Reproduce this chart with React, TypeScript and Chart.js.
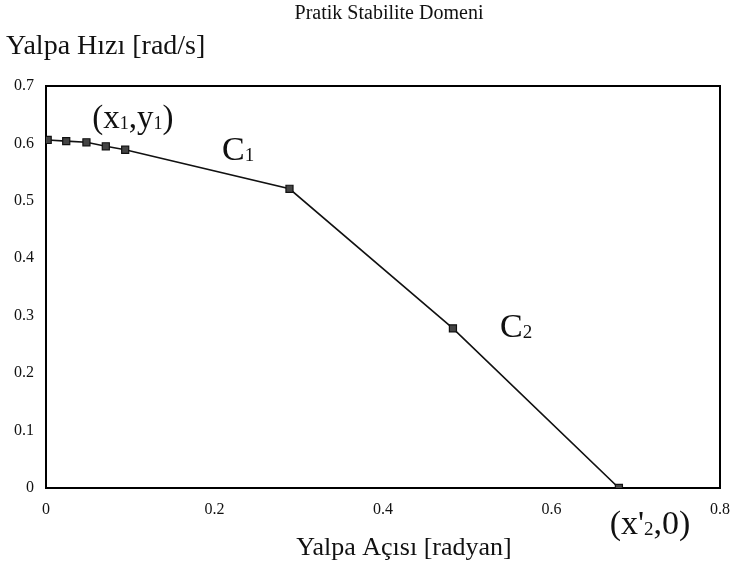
import React, { useEffect, useRef } from "react";
import { Chart, registerables } from "chart.js";

Chart.register(...registerables);

const xValues = [0.002, 0.024, 0.048, 0.071, 0.094, 0.289, 0.483, 0.68];
const yValues = [0.606, 0.604, 0.602, 0.595, 0.589, 0.521, 0.278, 0];
const xTicks = [0, 0.2, 0.4, 0.6, 0.8];
const yTicks = [0, 0.1, 0.2, 0.3, 0.4, 0.5, 0.6, 0.7];

const chartTitle = "Pratik Stabilite Domeni";
const yTitle = "Yalpa Hızı [rad/s]";
const xTitle = "Yalpa Açısı [radyan]";

// annotation labels: pieces [text, isSubscript], anchored in data coords
const annotations = [
  { x: 0.055, y: 0.646, parts: [["(x", false], ["1", true], [",y", false], ["1", true], [")", false]], size: 33 },
  { x: 0.209, y: 0.59, parts: [["C", false], ["1", true]], size: 34 },
  { x: 0.539, y: 0.282, parts: [["C", false], ["2", true]], size: 34 },
  { x: 0.669, y: -0.061, parts: [["(x'", false], ["2", true], [",0)", false]], size: 34 },
];

const FONT = "'Liberation Serif', 'Times New Roman', serif";

const textPlugin = {
  id: "textPlugin",
  beforeDatasetsDraw(chart: any) {
    const { ctx, chartArea } = chart;
    ctx.save();
    ctx.strokeStyle = "#000";
    ctx.lineWidth = 2;
    ctx.strokeRect(chartArea.left, chartArea.top, chartArea.right - chartArea.left, chartArea.bottom - chartArea.top);
    ctx.restore();
  },
  afterDraw(chart: any) {
    const { ctx } = chart;
    const xs = chart.scales.x;
    const ys = chart.scales.y;
    ctx.save();
    ctx.fillStyle = "#111";
    ctx.textBaseline = "middle";
    ctx.textAlign = "center";
    ctx.font = `20px ${FONT}`;
    ctx.fillText(chartTitle, 389, 14);
    ctx.textAlign = "left";
    ctx.font = `28px ${FONT}`;
    ctx.fillText(yTitle, 6, 47);
    ctx.font = `26px ${FONT}`;
    ctx.textAlign = "center";
    ctx.fillText(xTitle, 404, 548);

    for (const a of annotations) {
      let px = xs.getPixelForValue(a.x);
      const py = ys.getPixelForValue(a.y);
      ctx.textAlign = "left";
      ctx.textBaseline = "alphabetic";
      const base = py + a.size * 0.33;
      for (const [t, sub] of a.parts as any) {
        if (sub) {
          ctx.font = `${Math.round(a.size * 0.55)}px ${FONT}`;
          ctx.fillText(t, px, base + a.size * 0.02);
        } else {
          ctx.font = `${a.size}px ${FONT}`;
          ctx.fillText(t, px, base);
        }
        px += ctx.measureText(t).width;
      }
    }
    ctx.restore();
  },
};

export default function App() {
  const ref = useRef<HTMLCanvasElement>(null);
  useEffect(() => {
    if (!ref.current) return;
    const chart = new Chart(ref.current, {
      type: "scatter",
      data: {
        datasets: [
          {
            data: xValues.map((x, i) => ({ x, y: yValues[i] })),
            showLine: true,
            borderColor: "#111",
            borderWidth: 1.6,
            pointStyle: "rect",
            pointRadius: 5,
            pointBackgroundColor: "#444",
            pointBorderColor: "#111",
            pointBorderWidth: 1.2,
          },
        ],
      },
      options: {
        animation: false,
        responsive: false,
        layout: { padding: { top: 86, right: 12, left: 0, bottom: 0 } },
        plugins: { legend: { display: false }, title: { display: false }, tooltip: { enabled: false } },
        scales: {
          x: {
            type: "linear",
            min: 0,
            max: 0.8,
            afterFit: (s: any) => { s.height = 81; },
            afterBuildTicks: (s: any) => { s.ticks = xTicks.map((v) => ({ value: v })); },
            grid: { display: false, drawTicks: false },
            border: { display: false },
            ticks: {
              padding: 12,
              color: "#111",
              font: { family: FONT, size: 16 },
              callback: (v: any) => String(Number(Number(v).toFixed(1))),
            },
          },
          y: {
            type: "linear",
            min: 0,
            max: 0.7,
            afterFit: (s: any) => { s.width = 46; },
            afterBuildTicks: (s: any) => { s.ticks = yTicks.map((v) => ({ value: v })); },
            grid: { display: false, drawTicks: false },
            border: { display: false },
            ticks: {
              padding: 12,
              color: "#111",
              font: { family: FONT, size: 16 },
              callback: (v: any) => String(Number(Number(v).toFixed(1))),
            },
          },
        },
      },
      plugins: [textPlugin],
    });
    return () => chart.destroy();
  }, []);
  return (
    <div style={{ position: "fixed", left: 0, top: 0, width: 742, height: 569, background: "#fff" }}>
      <canvas ref={ref} width={742} height={569} style={{ display: "block", width: 742, height: 569 }} />
    </div>
  );
}
